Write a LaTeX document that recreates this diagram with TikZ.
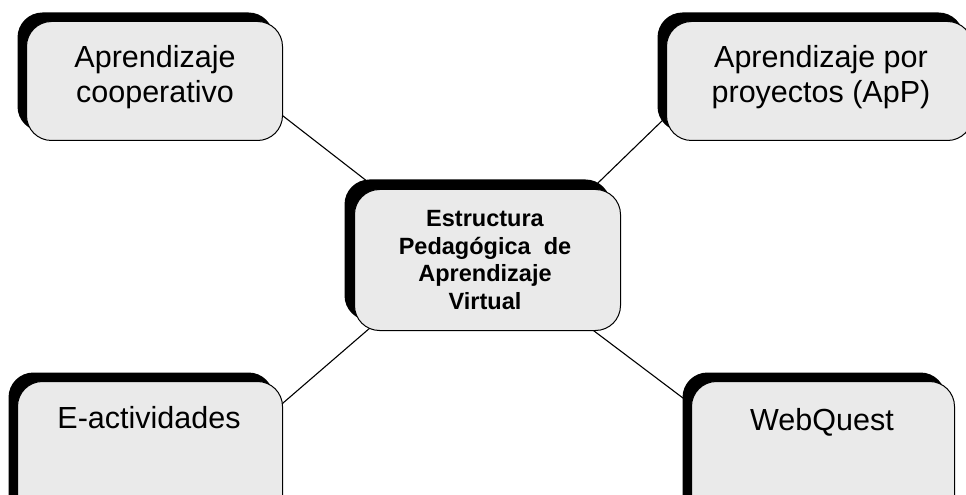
\documentclass[tikz,border=0pt]{standalone}
\usepackage{fontspec}
\setmainfont{Liberation Sans}
\usetikzlibrary{shadows,backgrounds}
\definecolor{boxgray}{RGB}{234,234,234}
\begin{document}
\begin{tikzpicture}[x=1bp,y=-1bp,
  box/.style={draw=black, line width=1bp, fill=boxgray, rounded corners=25bp, inner sep=0pt, anchor=north west,
    general shadow={fill=black, shadow xshift=-9bp, shadow yshift=9bp}},
  bigbox/.style={draw=black, line width=1bp, fill=boxgray, rounded corners=25bp, inner sep=0pt, anchor=north west,
    general shadow={fill=black, shadow xshift=-10bp, shadow yshift=10bp}},
  link/.style={draw=black, line width=1.1bp},
  txt/.style={inner sep=0pt, anchor=base, font=\fontsize{30.5bp}{35bp}\selectfont},
  ctxt/.style={inner sep=0pt, anchor=base, font=\fontsize{23.5bp}{27.5bp}\selectfont\bfseries}]
\useasboundingbox (0,0) rectangle (966,495);
% boxes
\node[box, minimum width=256bp, minimum height=119bp] (tl) at (26,21) {};
\node[box, minimum width=306bp, minimum height=119bp] (tr) at (666,21) {};
\node[box, minimum width=265bp, minimum height=150bp] (bl) at (17,381) {};
\node[box, minimum width=263bp, minimum height=150bp] (br) at (691,381) {};
\node[bigbox, minimum width=266bp, minimum height=141bp] (c) at (354,189) {};
% texts
\node[txt] (tlt) at (155,68) {\begin{tabular}[t]{@{}c@{}}Aprendizaje\\cooperativo\end{tabular}};
\node[txt] (trt) at (821,68) {\begin{tabular}[t]{@{}c@{}}Aprendizaje por\\proyectos (ApP)\end{tabular}};
\node[txt] (blt) at (149,428) {E-actividades};
\node[txt] (brt) at (822,430) {WebQuest};
\node[ctxt] (ct) at (485,226.7) {\begin{tabular}[t]{@{}c@{}}Estructura\\Pedag\'ogica\ \ de\\Aprendizaje\\Virtual\end{tabular}};
% connectors
\begin{pgfonlayer}{background}
\draw[link] ([shift={(-24.3,-43.9)}]tl.south east) -- ([shift={(33.3,7.9)}]c.north west);
\draw[link] ([shift={(18.5,-41.9)}]tr.south west) -- ([shift={(-39.5,9.9)}]c.north east);
\draw[link] ([shift={(-24.3,43)}]bl.north east) -- ([shift={(33.3,-18)}]c.south west);
\draw[link] ([shift={(17.8,36.5)}]br.north west) -- ([shift={(-48.8,-16.5)}]c.south east);
\end{pgfonlayer}
\end{tikzpicture}
\end{document}
